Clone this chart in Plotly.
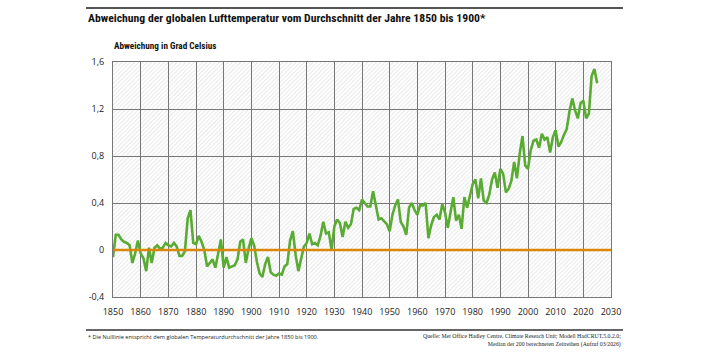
import base64
import plotly.graph_objects as go

# ---- data -------------------------------------------------------------
years = list(range(1850, 2026))
anomaly = [
    -0.06, 0.13, 0.13, 0.09, 0.07, 0.06, 0.04, -0.11, -0.03, 0.08,   # 1850-59
    -0.03, -0.07, -0.18, 0.02, -0.11, 0.02, 0.04, 0.01, 0.02, 0.06,  # 1860-69
    0.04, 0.03, 0.06, 0.03, -0.05, -0.05, -0.01, 0.27, 0.34, 0.06,   # 1870-79
    0.05, 0.12, 0.07, 0.00, -0.14, -0.11, -0.08, -0.15, -0.04, 0.09, # 1880-89
    -0.15, -0.06, -0.15, -0.14, -0.13, -0.08, 0.07, 0.09, -0.11, 0.01, # 1890-99
    0.10, 0.04, -0.10, -0.20, -0.23, -0.12, -0.06, -0.19, -0.21, -0.22, # 1900-09
    -0.20, -0.21, -0.14, -0.12, 0.08, 0.16, -0.04, -0.18, -0.06, 0.03, # 1910-19
    0.06, 0.14, 0.05, 0.06, 0.04, 0.12, 0.24, 0.14, 0.15, 0.00,      # 1920-29
    0.20, 0.26, 0.23, 0.11, 0.24, 0.19, 0.22, 0.35, 0.36, 0.34,      # 1930-39
    0.43, 0.40, 0.37, 0.37, 0.50, 0.38, 0.26, 0.27, 0.24, 0.22,      # 1940-49
    0.16, 0.30, 0.38, 0.43, 0.24, 0.20, 0.13, 0.36, 0.40, 0.34,      # 1950-59
    0.30, 0.38, 0.38, 0.40, 0.10, 0.21, 0.28, 0.30, 0.26, 0.39,      # 1960-69
    0.32, 0.19, 0.32, 0.45, 0.25, 0.30, 0.18, 0.45, 0.36, 0.46,      # 1970-79
    0.56, 0.60, 0.44, 0.61, 0.42, 0.40, 0.47, 0.60, 0.66, 0.53,      # 1980-89
    0.69, 0.65, 0.49, 0.52, 0.59, 0.75, 0.61, 0.82, 0.97, 0.72,      # 1990-99
    0.69, 0.85, 0.93, 0.94, 0.87, 0.99, 0.94, 0.96, 0.83, 0.96,      # 2000-09
    1.02, 0.88, 0.92, 0.98, 1.03, 1.18, 1.29, 1.19, 1.12, 1.25,      # 2010-19
    1.27, 1.12, 1.16, 1.48, 1.54, 1.42,                              # 2020-25
]
baseline = 0.0

x_range = [1850, 2030]
x_ticks = list(range(1850, 2031, 10))
y_range = [-0.4, 1.6]
y_ticks = [-0.4, 0.0, 0.4, 0.8, 1.2, 1.6]
y_ticktext = ["-0,4", "0", "0,4", "0,8", "1,2", "1,6"]

title = "Abweichung der globalen Lufttemperatur vom Durchschnitt der Jahre 1850 bis 1900*"
y_title = "Abweichung in Grad Celsius"
footnote = "* Die Nulllinie entspricht dem globalen Temperaturdurchschnitt der Jahre 1850 bis 1900."
source = ("Quelle: Met Office Hadley Centre, Climate Reseach Unit; Modell HadCRUT.5.0.2.0;<br>"
          "Median der 200 berechneten Zeitreihen (Aufruf 03/2026)")

# ---- layout geometry ----------------------------------------------------
W, H = 707, 354
ML, MR, MT, MB = 113, 96, 62, 57
PW, PH = W - ML - MR, H - MT - MB

COND = "Liberation Sans Narrow, Roboto Condensed, Roboto, sans-serif"

# hatched background as an svg image (style only)
svg = (f'<svg xmlns="http://www.w3.org/2000/svg" width="{PW}" height="{PH}">'
       '<defs><pattern id="h" width="3" height="3" patternUnits="userSpaceOnUse" '
       'patternTransform="rotate(45)">'
       '<rect width="3" height="3" fill="#ffffff"/>'
       '<line x1="0" y1="0" x2="0" y2="3" stroke="#d4d4d4" stroke-width="1"/>'
       '</pattern></defs>'
       f'<rect width="{PW}" height="{PH}" fill="url(#h)"/></svg>')
svg_uri = "data:image/svg+xml;base64," + base64.b64encode(svg.encode()).decode()


def py(pix_y):
    return (H - MB - pix_y) / PH


def px(pix_x):
    return (pix_x - ML) / PW


fig = go.Figure()
fig.add_trace(go.Scatter(
    x=years, y=anomaly, mode="lines",
    line=dict(color="#5aab33", width=2.6),
    hoverinfo="x+y", showlegend=False,
))

axis_common = dict(showgrid=True, gridcolor="#777777", gridwidth=1, zeroline=False,
                   showline=True, linecolor="#777777", linewidth=1, mirror=True,
                   ticks="", tickfont=dict(size=9, color="#222222"),
                   ticklabelstandoff=6)

fig.update_layout(
    width=W, height=H,
    margin=dict(l=ML, r=MR, t=MT, b=MB),
    paper_bgcolor="white", plot_bgcolor="rgba(0,0,0,0)",
    font=dict(family="Open Sans, sans-serif", color="#222222"),
    showlegend=False,
    images=[dict(source=svg_uri, xref="paper", yref="paper", x=0, y=1,
                 sizex=1, sizey=1, sizing="stretch", layer="below",
                 xanchor="left", yanchor="top")],
    xaxis=dict(range=x_range, tickvals=x_ticks, **axis_common),
    yaxis=dict(range=y_range, tickvals=y_ticks, ticktext=y_ticktext, **axis_common),
)

fig.add_shape(type="line", xref="paper", yref="y", x0=0, x1=1, y0=baseline, y1=baseline,
              line=dict(color="#d9860b", width=2.6), layer="above")
fig.add_shape(type="line", xref="paper", yref="paper", x0=px(86), x1=px(623),
              y0=py(8), y1=py(8), line=dict(color="#555555", width=2))
fig.add_shape(type="line", xref="paper", yref="paper", x0=px(86), x1=px(623),
              y0=py(330), y1=py(330), line=dict(color="#333333", width=1.5))

fig.add_annotation(text=f"<b>{title}</b>", xref="paper", yref="paper",
                   x=px(86), y=py(18), xanchor="left", yanchor="middle",
                   showarrow=False, font=dict(size=11.7, color="#111111", family=COND))
fig.add_annotation(text=f"<b>{y_title}</b>", xref="paper", yref="paper",
                   x=px(112), y=py(46), xanchor="left", yanchor="middle",
                   showarrow=False, font=dict(size=9.2, color="#111111", family=COND))
fig.add_annotation(text=footnote, xref="paper", yref="paper",
                   x=px(86), y=py(337), xanchor="left", yanchor="middle",
                   showarrow=False, font=dict(size=5.6, color="#222222"))
fig.add_annotation(text=source, xref="paper", yref="paper",
                   x=px(623), y=py(340), xanchor="right", yanchor="middle", align="right",
                   showarrow=False, font=dict(size=5.8, color="#222222",
                                              family="Liberation Serif, serif"))

fig.write_html("out.html")
